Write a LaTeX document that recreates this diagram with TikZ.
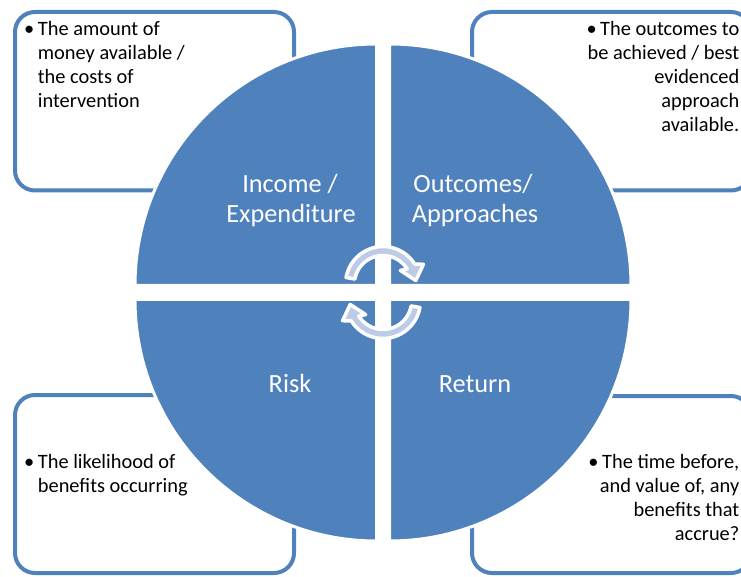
\documentclass[tikz,border=0pt]{standalone}
\usepackage{fontspec}
\setmainfont{Carlito}
\definecolor{qblue}{HTML}{4F81BD}
\definecolor{arrowfill}{HTML}{BCCCE6}
\tikzset{
  infobox/.style={draw=qblue, line width=4pt, rounded corners=20pt, fill=white},
  quad/.style={fill=qblue, draw=white, line width=3pt},
  cyclearrow/.style={fill=arrowfill, draw=white, line width=3.5pt, line join=round},
  bodytext/.style={inner sep=0pt, anchor=base west, font=\fontsize{20.4}{24}\selectfont},
  bodytextr/.style={inner sep=0pt, anchor=base east, font=\fontsize{20.4}{24}\selectfont},
  quadlabel/.style={inner sep=0pt, anchor=base, text=white, font=\fontsize{26.3}{30}\selectfont}
}
\newcommand{\bul}{\llap{\textbullet\hspace{3.5pt}}}
\begin{document}
\begin{tikzpicture}[x=1pt,y=1pt]
\clip (0,0) rectangle (741,576);
\fill[white] (0,0) rectangle (741,576);
% boxes
\draw[infobox] (15,564) rectangle (294,385.5);
\draw[infobox] (472,564) rectangle (751,385.5);
\draw[infobox] (15,181) rectangle (294,3);
\draw[infobox] (472,180) rectangle (751,3);
% quadrants
\filldraw[quad] (376.5,290.5) -- ++(-241.5,0) arc[start angle=180,end angle=90,radius=241.5] -- cycle;
\filldraw[quad] (389.5,290.5) -- ++(0,241.5) arc[start angle=90,end angle=0,radius=241.5] -- cycle;
\filldraw[quad] (376.5,276.5) -- ++(-241.5,0) arc[start angle=180,end angle=270,radius=241.5] -- cycle;
\filldraw[quad] (389.5,276.5) -- ++(241.5,0) arc[start angle=0,end angle=-90,radius=241.5] -- cycle;
% cycle arrows
\begin{scope}[shift={(383,292)}]
\filldraw[cyclearrow] (170:37.5) arc[start angle=170,end angle=32,radius=37.5] -- (26:45) -- (6:33) -- (38:22) -- (32:28.5) arc[start angle=32,end angle=170,radius=28.5] -- cycle;
\end{scope}
\begin{scope}[shift={(383,275)},rotate=180]
\filldraw[cyclearrow] (170:37.5) arc[start angle=170,end angle=32,radius=37.5] -- (26:45) -- (6:33) -- (38:22) -- (32:28.5) arc[start angle=32,end angle=170,radius=28.5] -- cycle;
\end{scope}
% quadrant labels
\node[quadlabel] (inc1) at (290,383) {Income /};
\node[quadlabel] (inc2) at (291,353) {Expenditure};
\node[quadlabel] (out1) at (473,383) {Outcomes/};
\node[quadlabel] (out2) at (475,353) {Approaches};
\node[quadlabel] (risk) at (290,184) {Risk};
\node[quadlabel] (ret) at (475,184) {Return};
% top-left text
\node[bodytext] (tl1) at (37.7,540) {\bul The amount of};
\node[bodytext] (tl2) at (37.7,516) {money available /};
\node[bodytext] (tl3) at (37.7,492) {the costs of};
\node[bodytext] (tl4) at (37.7,468) {intervention};
% top-right text
\node[bodytextr] (tr1) at (739.5,540) {\textbullet\hspace{3.5pt}The outcomes to};
\node[bodytextr] (tr2) at (739.5,516) {be achieved / best};
\node[bodytextr] (tr3) at (739.5,492) {evidenced};
\node[bodytextr] (tr4) at (739.5,468) {approach};
\node[bodytextr] (tr5) at (739.5,444) {available.};
% bottom-left text
\node[bodytext] (bl1) at (37.7,108) {\bul The likelihood of};
\node[bodytext] (bl2) at (37.7,84) {benefits occurring};
% bottom-right text
\node[bodytextr] (br1) at (739.5,108) {\textbullet\hspace{3.5pt}The time before,};
\node[bodytextr] (br2) at (739.5,84) {and value of, any};
\node[bodytextr] (br3) at (739.5,60) {benefits that};
\node[bodytextr] (br4) at (739.5,36) {accrue?};
\end{tikzpicture}
\end{document}
